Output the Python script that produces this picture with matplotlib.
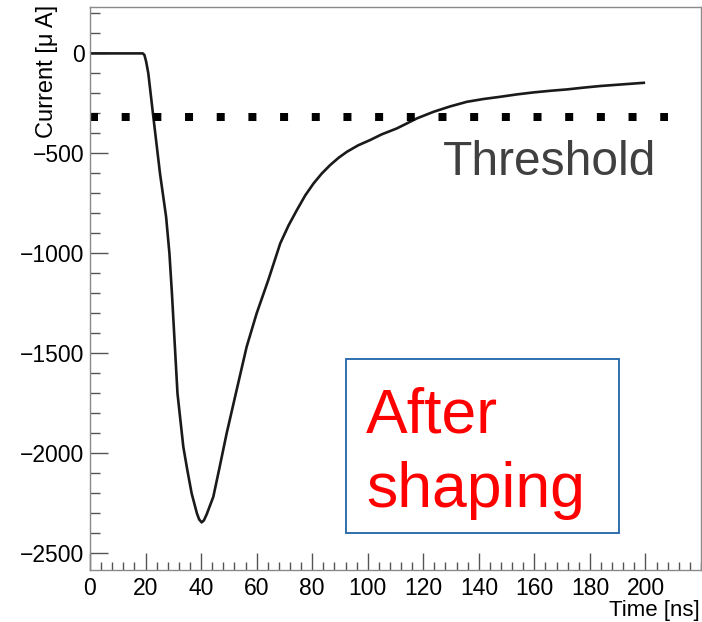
import matplotlib
matplotlib.use("Agg")
import matplotlib.pyplot as plt
from matplotlib.patches import Rectangle
from matplotlib.ticker import MultipleLocator, FixedLocator

plt.rcParams['font.family'] = ['Liberation Sans', 'DejaVu Sans']

# pulse after shaping
time_ns = [0, 19.0, 19.6, 20.2, 21.0, 22.8, 25.2, 27.4, 28.6, 29.5, 30.5,
           31.5, 33.6, 35.0, 36.6, 38.5, 39.3, 40.2, 41.0, 42.0, 44.4, 46.5,
           49.2, 52.8, 56.4, 60.0, 64.2, 68.5, 71.5, 74.5, 77.5, 80.5, 83.5,
           86.5, 89.5, 92.5, 96.5, 100.9, 105.0, 110.5, 117.7, 123.7, 129.7,
           135.7, 141.7, 147.7, 153.7, 159.7, 165.7, 171.8, 177.8, 183.8,
           191.6, 199.4]
current_uA = [0, 0, -8, -40, -100, -317, -600, -817, -1000, -1200, -1450,
              -1700, -1967, -2080, -2200, -2300, -2330, -2345, -2335, -2305,
              -2217, -2080, -1900, -1683, -1467, -1300, -1133, -950, -860,
              -783, -710, -650, -600, -558, -522, -492, -460, -433, -405,
              -375, -325, -292, -265, -242, -228, -217, -205, -195, -187,
              -180, -171, -163, -155, -147]

threshold = -320
threshold_span = [0, 208]

x_major = [0, 20, 40, 60, 80, 100, 120, 140, 160, 180, 200]

fig = plt.figure(figsize=(7.02, 6.22), dpi=100)
ax = fig.add_axes([90 / 702, 52 / 622, 611 / 702, 563 / 622])

ax.plot(time_ns, current_uA, color='#1a1a1a', lw=1.9)
ax.plot(threshold_span, [threshold, threshold], color='black', lw=5.76,
        ls=(0, (1, 2.96)), solid_capstyle='butt', clip_on=False)

ax.set_xlim(0, 220)
ax.set_ylim(-2583, 232)

ax.xaxis.set_major_locator(FixedLocator(x_major))
ax.xaxis.set_minor_locator(MultipleLocator(4))
ax.yaxis.set_major_locator(MultipleLocator(500))
ax.yaxis.set_minor_locator(MultipleLocator(100))

for s in ax.spines.values():
    s.set_color('#8a8a8a')
    s.set_linewidth(1.0)

ax.tick_params(which='both', direction='in', colors='#555555', labelcolor='black',
               labelsize=16.5, top=False, right=False)
ax.tick_params(axis='y', which='major', length=13, width=1.0, pad=4)
ax.tick_params(axis='y', which='minor', length=7, width=1.0)
ax.tick_params(axis='x', which='major', length=12.5, width=1.0, pad=5)
ax.tick_params(axis='x', which='minor', length=6, width=1.0)

fig.text(58 / 702, 1 - 5 / 622, 'Current [μ A]', rotation=90, ha='right',
         va='top', fontsize=17)
fig.text(700 / 702, 1 - 616 / 622, 'Time [ns]', ha='right', va='baseline',
         fontsize=16)

ax.text(0.5777, 0.7016, 'Threshold', transform=ax.transAxes, color='#404040',
        fontsize=34.5, ha='left', va='baseline')

box = Rectangle((0.419, 0.0663), 0.447, 0.3085, transform=ax.transAxes,
                fill=False, edgecolor='#1f64a8', lw=1.3)
ax.add_patch(box)
ax.text(0.4517, 0.2439, 'After', transform=ax.transAxes, color='#ff0000',
        fontsize=45, ha='left', va='baseline')
ax.text(0.4517, 0.1124, 'shaping', transform=ax.transAxes, color='#ff0000',
        fontsize=45, ha='left', va='baseline')

fig.savefig('out.png', dpi=100)
